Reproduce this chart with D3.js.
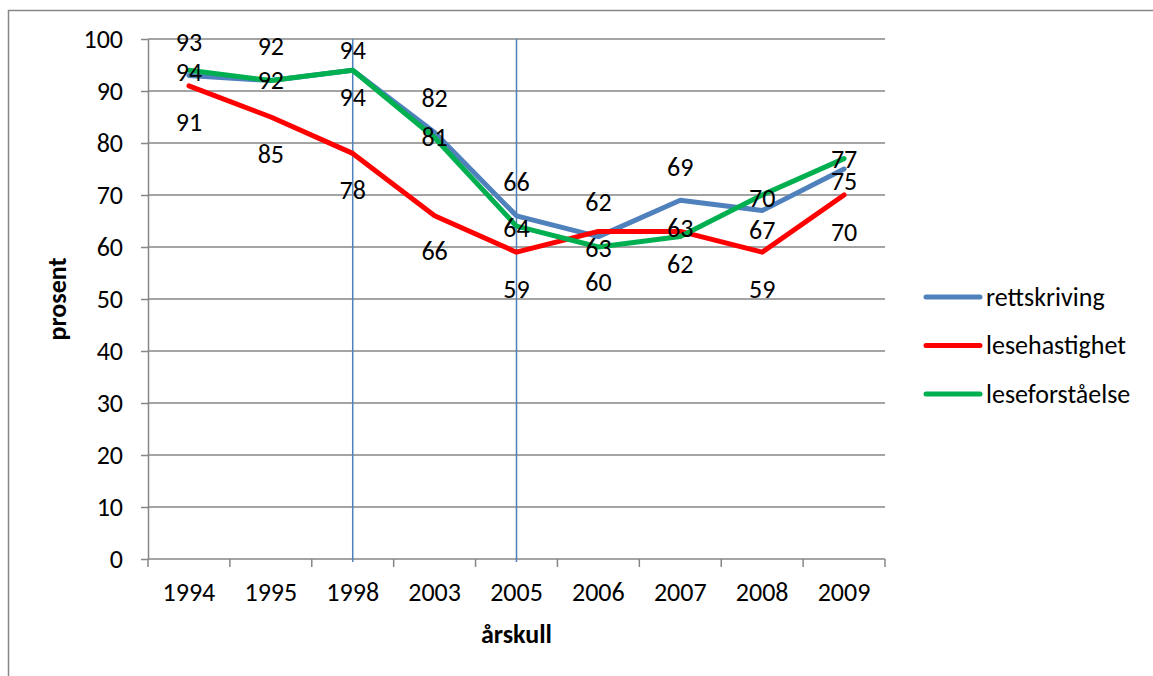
<!DOCTYPE html>
<html>
<head>
<meta charset="utf-8">
<script src="https://cdn.jsdelivr.net/npm/d3@7"></script>
<style>
  html, body { margin: 0; padding: 0; background: #ffffff; }
  svg { display: block; }
  text { font-family: Carlito, Calibri, Lato, sans-serif; fill: #000; }
</style>
</head>
<body>
<svg id="chart" width="1153" height="676"></svg>
<script>
// Cohorts (årskull) on the category axis
const years = ["1994", "1995", "1998", "2003", "2005", "2006", "2007", "2008", "2009"];

// Share (prosent) per test
const rettskriving   = [93, 92, 94, 82, 66, 62, 69, 67, 75];
const lesehastighet  = [91, 85, 78, 66, 59, 63, 63, 59, 70];
const leseforstaelse = [94, 92, 94, 81, 64, 60, 62, 70, 77];

const seriesNames = ["rettskriving", "lesehastighet", "leseforståelse"];
const yTicks = [0, 10, 20, 30, 40, 50, 60, 70, 80, 90, 100];

// Cohorts marked with a vertical reference line
const markedYears = ["1998", "2005"];

// Value label placement per point (vertical nudge from the point, px)
const labelNudge = {
  rettskriving:   [-33, -34, -20, -34, -33, -34, -33, 20, 12],
  lesehastighet:  [37, 37, 37, 36, 37, 17, -3, 37, 37],
  leseforstaelse: [2, 0, 27, 0, 2, 35, 28, 3, 1]
};

const series = [
  { key: "rettskriving",   name: seriesNames[0], values: rettskriving,   color: "#4f81bd" },
  { key: "lesehastighet",  name: seriesNames[1], values: lesehastighet,  color: "#ff0000" },
  { key: "leseforstaelse", name: seriesNames[2], values: leseforstaelse, color: "#00b050" }
];

const svg = d3.select("#chart");
const plot = { left: 148, right: 885, top: 39, bottom: 559 };
const gridColor = "#868686";
const fontSize = "26px";

// Outer chart frame (runs off the page to the right and bottom)
svg.append("rect")
  .attr("x", 8.5).attr("y", 10.5)
  .attr("width", 1300).attr("height", 800)
  .attr("fill", "none").attr("stroke", gridColor).attr("stroke-width", 1.5);

const x = d3.scaleBand().domain(years).range([plot.left, plot.right]).padding(0);
const y = d3.scaleLinear().domain([0, 100]).range([plot.bottom, plot.top]);
const cx = d => x(d) + x.bandwidth() / 2;

// Horizontal gridlines
svg.append("g")
  .selectAll("line")
  .data(yTicks.filter(t => t > 0))
  .join("line")
  .attr("x1", plot.left).attr("x2", plot.right)
  .attr("y1", d => y(d)).attr("y2", d => y(d))
  .attr("stroke", gridColor).attr("stroke-width", 1.5);

// Y axis with ticks and labels
const yAxis = d3.axisLeft(y).tickValues(yTicks).tickSize(7).tickPadding(18).tickSizeOuter(0);
const gy = svg.append("g").attr("transform", `translate(${plot.left},0)`).call(yAxis);
gy.select(".domain").attr("stroke", gridColor).attr("stroke-width", 1.5);
gy.selectAll(".tick line").attr("stroke", gridColor).attr("stroke-width", 1.5);
gy.selectAll(".tick text")
  .style("font-family", "Carlito, Calibri, Lato, sans-serif")
  .style("font-size", fontSize).attr("fill", "#000")
  .attr("dy", "0.33em");

// X axis: ticks on category boundaries, labels centered in each band
const gx = svg.append("g").attr("transform", `translate(0,${plot.bottom})`);
gx.append("line")
  .attr("x1", plot.left).attr("x2", plot.right)
  .attr("stroke", gridColor).attr("stroke-width", 1.5);
const boundaries = years.map(d => x(d)).concat([plot.right]);
gx.selectAll("line.tick")
  .data(boundaries)
  .join("line")
  .attr("class", "tick")
  .attr("x1", d => d).attr("x2", d => d)
  .attr("y1", 0).attr("y2", 8)
  .attr("stroke", gridColor).attr("stroke-width", 1.5);
gx.selectAll("text")
  .data(years)
  .join("text")
  .attr("x", d => cx(d))
  .attr("y", 42)
  .attr("text-anchor", "middle")
  .style("font-size", fontSize)
  .text(d => d);

// Vertical reference lines
svg.append("g")
  .selectAll("line")
  .data(markedYears)
  .join("line")
  .attr("x1", d => cx(d)).attr("x2", d => cx(d))
  .attr("y1", plot.top).attr("y2", plot.bottom + 3)
  .attr("stroke", "#4f81bd").attr("stroke-width", 1.5);

// Series lines
const line = d3.line()
  .x((d, i) => cx(years[i]))
  .y(d => y(d))
  .curve(d3.curveLinear);

svg.append("g")
  .selectAll("path")
  .data(series)
  .join("path")
  .attr("d", s => line(s.values))
  .attr("fill", "none")
  .attr("stroke", s => s.color)
  .attr("stroke-width", 5)
  .attr("stroke-linejoin", "round")
  .attr("stroke-linecap", "round");

// Value labels
series.forEach(s => {
  svg.append("g")
    .selectAll("text")
    .data(s.values)
    .join("text")
    .attr("x", (d, i) => cx(years[i]))
    .attr("y", (d, i) => y(d) + labelNudge[s.key][i])
    .attr("dy", "0.33em")
    .attr("text-anchor", "middle")
    .style("font-size", fontSize)
    .text(d => d);
});

// Axis titles
svg.append("text")
  .attr("x", (plot.left + plot.right) / 2)
  .attr("y", 643)
  .attr("text-anchor", "middle")
  .style("font-size", fontSize).style("font-weight", "bold")
  .text("årskull");

svg.append("text")
  .attr("transform", `translate(66,${(plot.top + plot.bottom) / 2}) rotate(-90)`)
  .attr("text-anchor", "middle")
  .style("font-size", fontSize).style("font-weight", "bold")
  .text("prosent");

// Legend
const legend = svg.append("g").attr("transform", "translate(926,297)");
const item = legend.selectAll("g")
  .data(series)
  .join("g")
  .attr("transform", (d, i) => `translate(0,${i * 48.5})`);
item.append("line")
  .attr("x1", 0).attr("x2", 54)
  .attr("stroke", d => d.color)
  .attr("stroke-width", 5)
  .attr("stroke-linecap", "round");
item.append("text")
  .attr("x", 60).attr("dy", "0.33em")
  .style("font-size", fontSize)
  .text(d => d.name);
</script>
</body>
</html>
